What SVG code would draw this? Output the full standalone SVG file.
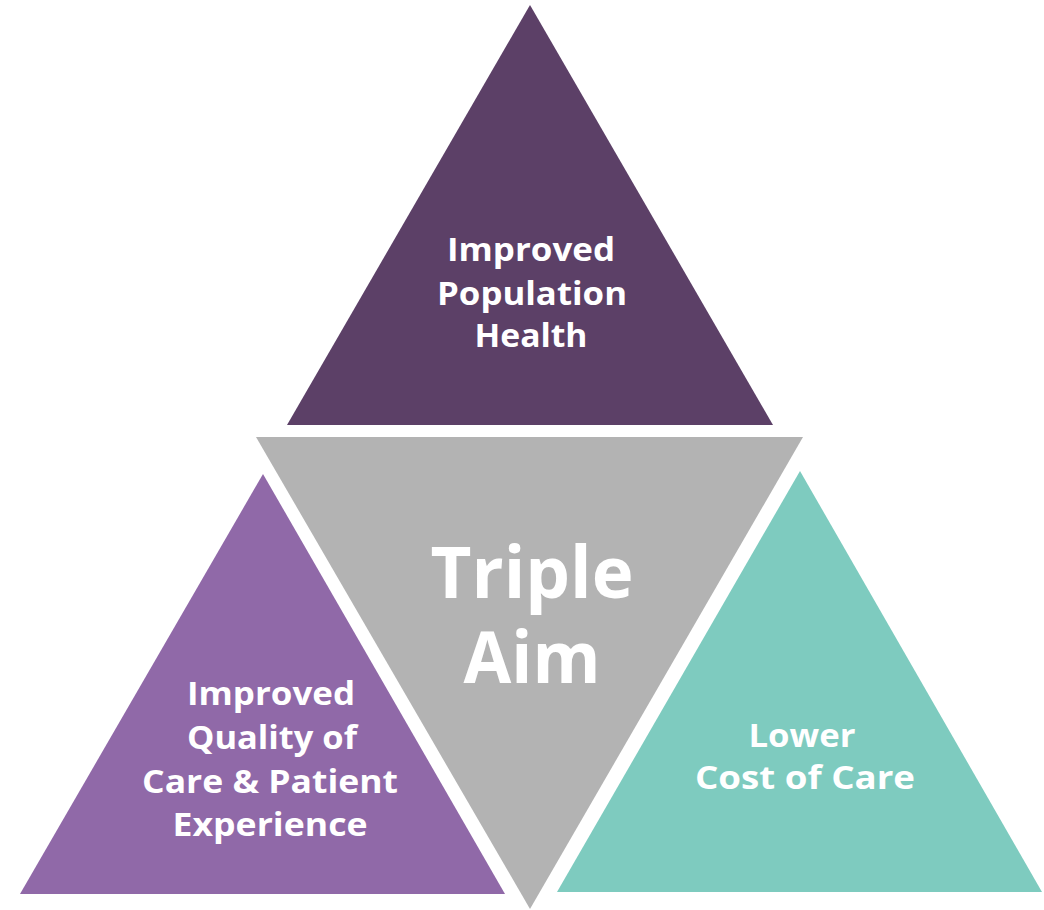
<svg xmlns="http://www.w3.org/2000/svg" width="1044" height="910" viewBox="0 0 1044 910">
<style>
.lbl{font-family:"Open Sans",Lato,"Liberation Sans",sans-serif;font-weight:700;fill:#ffffff;text-anchor:middle}
.sm{font-size:33px}
.big{font-size:72px}
</style>
<rect x="0" y="0" width="1044" height="910" fill="#ffffff"/>
<g id="connectors"></g>
<g id="node-population-health">
<polygon points="530,5 287,425 773,425" fill="#5c4067"/>
<text class="lbl sm" x="531" y="261" textLength="168" lengthAdjust="spacingAndGlyphs">Improved</text>
<text class="lbl sm" x="532" y="305" textLength="190" lengthAdjust="spacingAndGlyphs">Population</text>
<text class="lbl sm" x="531" y="347" textLength="113" lengthAdjust="spacingAndGlyphs">Health</text>
</g>
<g id="node-triple-aim">
<polygon points="256,437 803,437 530,909" fill="#b3b3b3"/>
<text class="lbl big"><tspan x="532" y="598" textLength="203" lengthAdjust="spacingAndGlyphs">Triple</tspan><tspan x="532" y="683" textLength="137" lengthAdjust="spacingAndGlyphs">Aim</tspan></text>
</g>
<g id="node-quality">
<polygon points="263,474 20,894 505,894" fill="#9069a8"/>
<text class="lbl sm" x="271" y="705" textLength="168" lengthAdjust="spacingAndGlyphs">Improved</text>
<text class="lbl sm" x="272" y="749" textLength="170" lengthAdjust="spacingAndGlyphs">Quality of</text>
<text class="lbl sm" x="270" y="793" textLength="256" lengthAdjust="spacingAndGlyphs">Care &amp; Patient</text>
<text class="lbl sm" x="270" y="836" textLength="195" lengthAdjust="spacingAndGlyphs">Experience</text>
</g>
<g id="node-cost">
<polygon points="800,471 557,892 1042,892" fill="#7ecbbf"/>
<text class="lbl sm" x="802" y="747" textLength="107" lengthAdjust="spacingAndGlyphs">Lower</text>
<text class="lbl sm" x="805" y="789" textLength="220" lengthAdjust="spacingAndGlyphs">Cost of Care</text>
</g>
</svg>
